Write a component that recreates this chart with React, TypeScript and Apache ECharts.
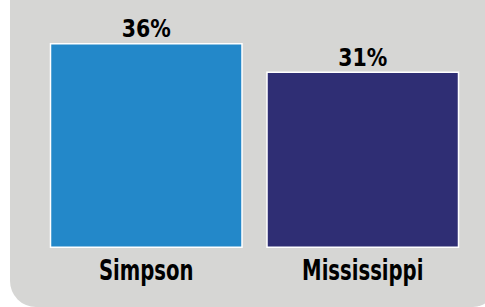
import React, { useEffect, useRef } from "react";
import * as echarts from "echarts";

const categories = ["Simpson", "Mississippi"];
const values = [36, 31];
const valueLabels = ["36%", "31%"];
const barColors = ["#2388c9", "#2f2e74"];

export default function App() {
  const ref = useRef<HTMLDivElement>(null);
  useEffect(() => {
    if (!ref.current) return;
    const chart = echarts.init(ref.current, null, { renderer: "svg" });
    const font = "'Liberation Sans Narrow', 'DejaVu Sans Condensed', sans-serif";
    const bg = {
      id: "bg",
      type: "rect",
      z: -10,
      silent: true,
      shape: { x: 10, y: -30, width: 485, height: 337, r: [0, 0, 22, 26] },
      style: { fill: "#d6d6d4" },
    };
    chart.setOption({
      animation: false,
      backgroundColor: "#ffffff",
      graphic: [bg],
      grid: { left: 38, right: 14, top: 43, bottom: 59 },
      xAxis: {
        type: "category",
        data: categories,
        axisLine: { show: false },
        axisTick: { show: false },
        axisLabel: { show: false },
      },
      yAxis: {
        type: "value",
        min: 0,
        max: 36,
        show: false,
        splitLine: { show: false },
      },
      series: [
        {
          type: "bar",
          barWidth: 193,
          data: values.map((v, i) => ({ value: v, itemStyle: { color: barColors[i] } })),
          itemStyle: { borderColor: "#ffffff", borderWidth: 1.5 },
          label: { show: false },
        },
      ],
    });
    const texts: any[] = [];
    values.forEach((v, i) => {
      const top = chart.convertToPixel({ seriesIndex: 0 }, [i, v]) as number[];
      const base = chart.convertToPixel({ seriesIndex: 0 }, [i, 0]) as number[];
      texts.push({
        id: "val" + i,
        type: "text",
        x: top[0],
        y: top[1] - 14,
        scaleX: 0.95,
        style: {
          text: valueLabels[i],
          align: "center",
          verticalAlign: "middle",
          fill: "#000",
          fontFamily: font,
          fontWeight: "bold",
          fontSize: 24,
        },
      });
      texts.push({
        id: "cat" + i,
        type: "text",
        x: base[0],
        y: base[1] + 23,
        scaleX: 0.78,
        style: {
          text: categories[i],
          align: "center",
          verticalAlign: "middle",
          fill: "#000",
          fontFamily: font,
          fontWeight: "bold",
          fontSize: 28,
        },
      });
    });
    chart.setOption({ graphic: [bg, ...texts] });
    return () => chart.dispose();
  }, []);
  return (
    <div
      ref={ref}
      style={{ position: "absolute", left: 0, top: 0, width: 485, height: 307 }}
    />
  );
}
